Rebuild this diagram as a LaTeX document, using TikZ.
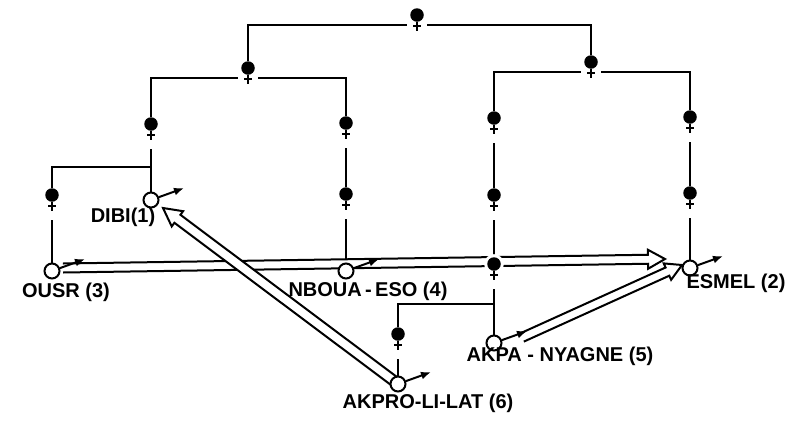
\documentclass[tikz,border=0pt]{standalone}
\usepackage{fontspec}
\setmainfont{Liberation Sans}
\usetikzlibrary{calc,arrows.meta}
\pgfdeclarelayer{bg}
\pgfsetlayers{bg,main}
\tikzset{
 tree/.style={line width=2.6pt},
 femnode/.style={circle, fill=black, inner sep=0pt, minimum size=13.5pt},
 malenode/.style={circle, draw=black, fill=white, line width=2pt, inner sep=0pt, minimum size=15pt},
 symline/.style={line width=2pt},
 lab/.style={font=\bfseries\fontsize{20}{22}\selectfont, inner sep=0pt},
 hollowline/.style={line width=2pt, line join=miter},
 halo/.style={preaction={draw=white, line width=6pt}}
}
\newcommand\femsym[3][]{%
 \node[femnode,#1] (#2) at (#3) {};
 \draw[symline] (#2.south) -- ++(0,9.5) ($(#2)+(-4,11)$) -- ++(8,0);
 \coordinate (#2-l) at ($(#2)+(-10,10)$);
 \coordinate (#2-r) at ($(#2)+(10,10)$);
 \coordinate (#2-o) at ($(#2)+(0,25)$);
}
\newcommand\malesym[2]{%
 \node[malenode] (#1) at (#2) {};
 \draw[symline,-{Latex[length=10pt,width=8pt]}] (#1.20) -- ++(25,-9);
}
\newcommand\hollowarrow[6]{%
 \coordinate (#6-hb) at ($(#2)!#5!(#1)$);
 \coordinate (#6-1) at ($(#1)!#3!90:(#2)$);
 \coordinate (#6-2) at ($(#6-hb)!#3!90:(#2)$);
 \coordinate (#6-3) at ($(#6-hb)!#4!90:(#2)$);
 \coordinate (#6-4) at ($(#6-hb)!#4!-90:(#2)$);
 \coordinate (#6-5) at ($(#6-hb)!#3!-90:(#2)$);
 \coordinate (#6-6) at ($(#1)!#3!-90:(#2)$);
 \fill[white] (#6-1) -- (#6-2) -- (#6-3) -- (#2) -- (#6-4) -- (#6-5) -- (#6-6) -- cycle;
 \draw[hollowline] (#6-1) -- (#6-2) -- (#6-3) -- (#2) -- (#6-4) -- (#6-5) -- (#6-6);
}
\begin{document}
\begin{tikzpicture}[x=1pt,y=-1pt]
\useasboundingbox (0,0) rectangle (801,424);
% females
\femsym{FT}{417,15}
\femsym{FL}{248,68}
\femsym{FR}{591,62}
\femsym{Fa}{151,124}
\femsym{Fb}{52,195}
\femsym{Fc}{346,123}
\femsym{Fd}{346,194}
\femsym{Fe}{494,118}
\femsym{Ff}{494,195}
\femsym[halo]{Fg}{494,264}
\femsym{Fh}{398,334}
\femsym{Fi}{690,117}
\femsym{Fj}{690,193}
% males (nodes and their arrows)
\malesym{DIBI}{151,200}
\malesym{OUSR}{52,271}
\malesym{NBOUA}{346,271}
\malesym{ESMEL}{690,268}
\malesym{AKPA}{494,343}
\malesym{AKPRO}{398,384}
% labels
\node[lab] (lDIBI) at (123,217) {DIBI(1)};
\node[lab] (lOUSR) at (66,292) {OUSR (3)};
\node[lab] (lNBOUA) at (368,291) {NBOUA\,-\,ESO (4)};
\node[lab] (lESMEL) at (736,283) {ESMEL (2)};
\node[lab] (lAKPA) at (560,356) {AKPA - NYAGNE (5)};
\node[lab] (lAKPRO) at (428,403) {AKPRO-LI-LAT (6)};
% junctions and arrow ends
\coordinate (jb) at (151,167);
\coordinate (ja) at (494,304);
\coordinate (ousr-out) at ($(OUSR)+(11,-3)$);
\coordinate (esmel-in1) at ($(ESMEL)+(-25,-9)$);
\coordinate (dibi-in) at ($(DIBI)+(12,8)$);
\coordinate (akpa-out) at ($(AKPA)+(28,-5.5)$);
\coordinate (esmel-in2) at ($(ESMEL)+(-8,-3)$);
\begin{pgfonlayer}{bg}
 % tree lines
 \draw[tree] (FL.north) |- (FT-l);
 \draw[tree] (FR.north) |- (FT-r);
 \draw[tree] (Fa.north) |- (FL-l);
 \draw[tree] (Fc.north) |- (FL-r);
 \draw[tree] (Fe.north) |- (FR-l);
 \draw[tree] (Fi.north) |- (FR-r);
 \draw[tree] (Fa-o) -- (DIBI.north);
 \draw[tree] (Fb.north) |- (jb);
 \draw[tree] (Fb-o) -- (OUSR.north);
 \draw[tree] (Fc-o) -- (Fd.north);
 \draw[tree] (Fd-o) -- (NBOUA.north);
 \draw[tree] (Fe-o) -- (Ff.north);
 \draw[tree] (Ff-o) -- (Fg.north);
 \draw[tree] (Fg-o) -- (AKPA.north);
 \draw[tree] (Fh.north) |- (ja);
 \draw[tree] (Fh-o) -- (AKPRO.north);
 \draw[tree] (Fi-o) -- (Fj.north);
 \draw[tree] (Fj-o) -- (ESMEL.north);
 % hollow arrows
 \hollowarrow{ousr-out}{esmel-in1}{4.5pt}{9.5pt}{17pt}{A1}
 \hollowarrow{akpa-out}{esmel-in2}{4.5pt}{9pt}{16pt}{A3}
 \hollowarrow{AKPRO}{dibi-in}{5pt}{9.5pt}{18pt}{A2}
\end{pgfonlayer}
\end{tikzpicture}
\end{document}
